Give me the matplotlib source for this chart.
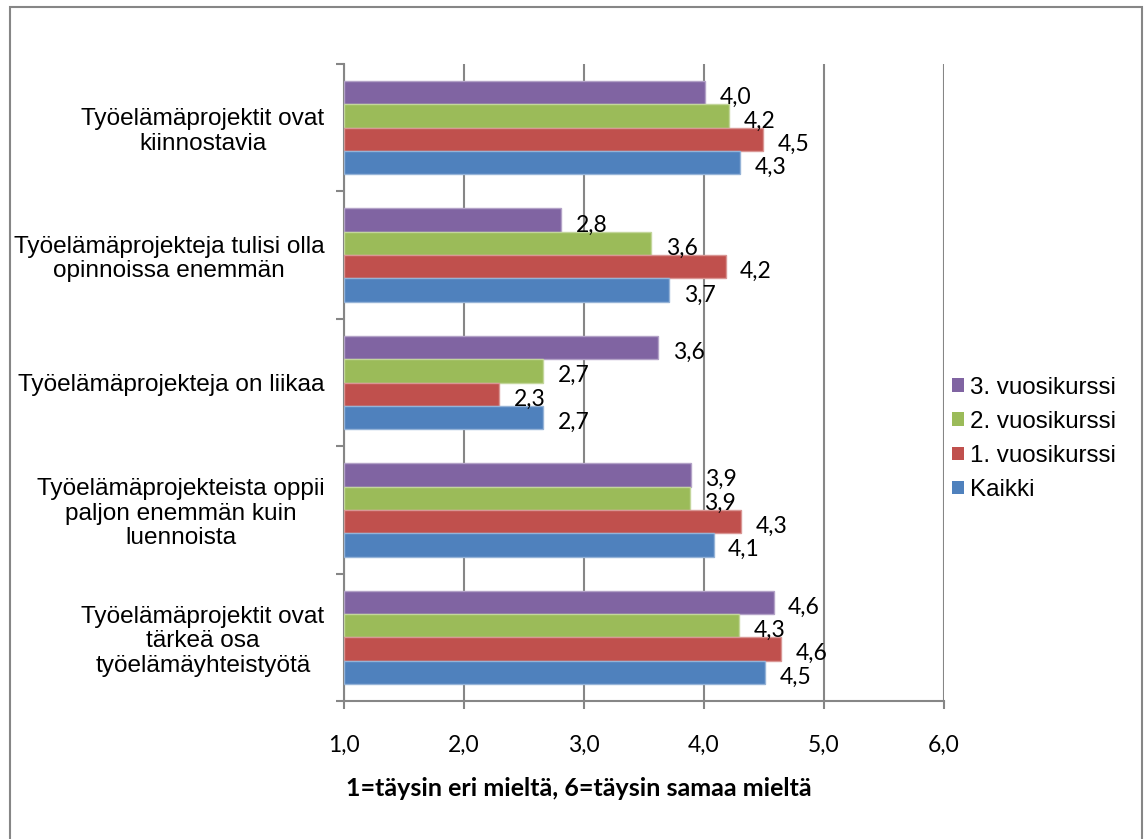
import numpy as np
import matplotlib.pyplot as plt
from matplotlib.patches import Rectangle, Patch

# kysymykset ylhäältä alas
categories = [
    "Työelämäprojektit ovat\nkiinnostavia",
    "Työelämäprojekteja tulisi olla\nopinnoissa enemmän",
    "Työelämäprojekteja on liikaa",
    "Työelämäprojekteista oppii\npaljon enemmän kuin\nluennoista",
    "Työelämäprojektit ovat\ntärkeä osa\ntyöelämäyhteistyötä",
]
series = ["3. vuosikurssi", "2. vuosikurssi", "1. vuosikurssi", "Kaikki"]
vuosi3 = [4.01, 2.81, 3.62, 3.89, 4.58]
vuosi2 = [4.21, 3.56, 2.66, 3.88, 4.29]
vuosi1 = [4.49, 4.18, 2.29, 4.31, 4.64]
kaikki = [4.30, 3.71, 2.66, 4.08, 4.51]
colors = ["#8064A2", "#9BBB59", "#C0504D", "#4F81BD"]
edges = ["#B3A2C7", "#C3D69B", "#D99694", "#95B3D7"]
xticks = [1, 2, 3, 4, 5, 6]
xlabel = "1=täysin eri mieltä, 6=täysin samaa mieltä"

fig = plt.figure(figsize=(11.44, 8.39), dpi=100)
ax = fig.add_axes([344 / 1144, 138 / 839, 600 / 1144, 637 / 839])

n = len(categories)
ypos = np.arange(n)[::-1]  # ylin kysymys ylimpänä
h = 0.183
offsets = [1.5 * h, 0.5 * h, -0.5 * h, -1.5 * h]
data = [vuosi3, vuosi2, vuosi1, kaikki]

for vals, off, c, ec in zip(data, offsets, colors, edges):
    ax.barh(ypos + off, np.array(vals) - 1, left=1, height=h, color=c,
            edgecolor=ec, linewidth=1, zorder=3)
    for y, v in zip(ypos, vals):
        ax.annotate(f"{v:.1f}".replace(".", ","), (v, y + off),
                    xytext=(10.5, -3.5), textcoords="offset points",
                    ha="left", va="center", fontsize=16.5, family="Lato",
                    zorder=4)

ax.set_xlim(1, 6)
ax.set_ylim(-0.5, n - 0.5)
ax.set_xticks(xticks)
ax.set_xticklabels([f"{t:.1f}".replace(".", ",") for t in xticks],
                   fontsize=16.5, family="Lato")
ax.set_yticks(ypos)
ax.set_yticklabels(categories, fontsize=17.6, family="Liberation Sans",
                   ha="right", multialignment="center", linespacing=1.15)
ax.tick_params(axis="y", which="major", length=0, pad=14)
ax.set_yticks(np.arange(-0.5, n, 1), minor=True)
ax.tick_params(axis="y", which="minor", length=6, width=1.5, color="#868686")
ax.tick_params(axis="x", length=6, width=1.5, color="#868686", pad=18.5)

ax.grid(axis="x", color="#868686", linewidth=1.5, zorder=0)
for s in ["top", "right"]:
    ax.spines[s].set_visible(False)
for s in ["left", "bottom"]:
    ax.spines[s].set_color("#868686")
    ax.spines[s].set_linewidth(1.5)

fig.text(579 / 1144, 1 - 788 / 839, xlabel, ha="center", va="center",
         fontsize=18, fontweight="bold", family="Lato")

handles = [Patch(facecolor=c, edgecolor="none") for c in colors]
fig.legend(handles, series, loc="center left",
           bbox_to_anchor=(952 / 1144, 1 - 439 / 839), frameon=False,
           prop={"family": "Liberation Sans", "size": 17.4},
           borderpad=0, borderaxespad=0,
           handlelength=0.5, handleheight=0.5, handletextpad=0.25,
           labelspacing=0.5)

fig.patches.append(Rectangle((10 / 1144, -0.01), 1132 / 1144, 1 - 7 / 839 + 0.01,
                             transform=fig.transFigure, fill=False,
                             edgecolor="#868686", linewidth=1.5))

fig.savefig("out.png", dpi=100)
